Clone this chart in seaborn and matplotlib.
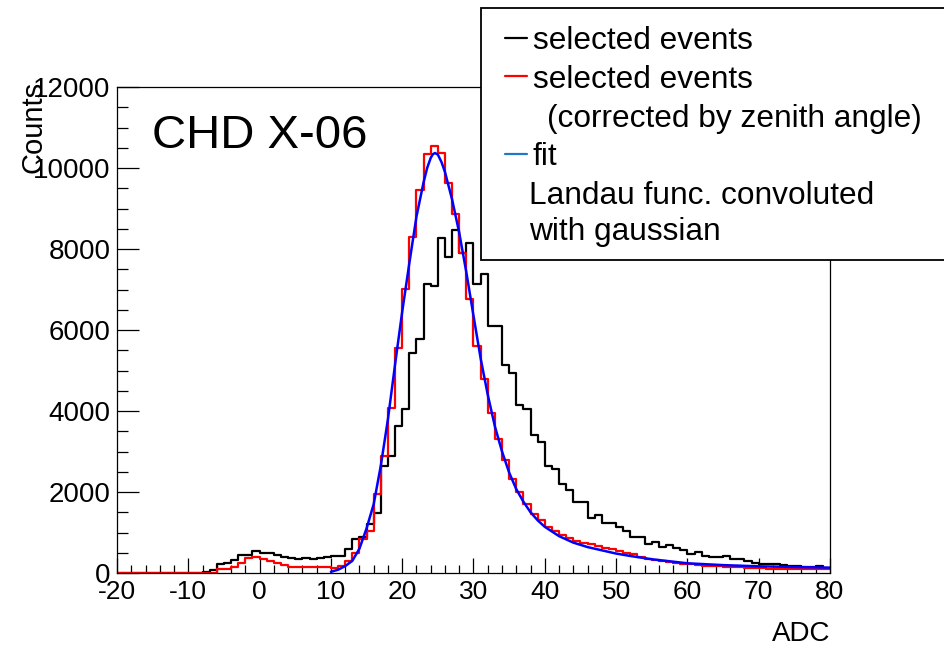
import numpy as np
import pandas as pd
import matplotlib
matplotlib.use("Agg")
import matplotlib.pyplot as plt
from matplotlib.patches import Rectangle
from matplotlib.lines import Line2D
from matplotlib.ticker import MultipleLocator
import seaborn as sns

# bin edges: 1 ADC wide, -20 .. 80
bin_edges = list(range(-20, 81))
bin_centers = [e + 0.5 for e in bin_edges[:-1]]

# selected events (black), one value per bin from -20 to 79
counts_sel = [
    0, 0, 0, 0, 0, 0, 0, 0, 0, 0, 0, 0,            # -20 .. -9
    33, 80, 214, 255, 313, 436, 436, 543,          # -8 .. -1
    502, 502, 445, 403, 362, 340, 370, 345, 380, 400,  # 0 .. 9
    420, 420, 585, 831, 881, 1202, 1490, 2643, 2890, 3631,  # 10 .. 19
    4043, 5442, 5772, 7146, 7089, 8267, 7805, 8464, 7912, 8159,  # 20 .. 29
    7146, 7377, 6101, 6101, 5138, 4932, 4141, 4043, 3409, 3244,  # 30 .. 39
    2643, 2561, 2207, 2042, 1762, 1762, 1367, 1433, 1243, 1243,  # 40 .. 49
    1136, 1037, 889, 889, 708, 766, 642, 691, 609, 560,  # 50 .. 59
    478, 527, 420, 395, 395, 420, 337, 337, 296, 255,  # 60 .. 69
    230, 230, 214, 198, 173, 173, 148, 148, 173, 132,  # 70 .. 79
]

# selected events corrected by zenith angle (red)
counts_corr = [
    0, 0, 0, 0, 0, 0, 0, 0, 0, 0, 0, 0, 0,         # -20 .. -8
    10, 90, 100, 156, 239, 379, 395,               # -7 .. -1
    337, 296, 239, 198, 156, 150, 145, 145, 145, 150,  # 0 .. 9
    132, 165, 296, 502, 831, 1037, 1943, 2890, 4084, 5566,  # 10 .. 19
    7006, 8299, 9452, 10341, 10547, 10382, 9641, 8859, 7912, 6760,  # 20 .. 29
    5607, 4784, 3960, 3301, 2790, 2330, 2000, 1712, 1449, 1301,  # 30 .. 39
    1136, 1037, 939, 856, 790, 749, 708, 667, 626, 585,  # 40 .. 49
    543, 500, 460, 400, 337, 313, 296, 280, 255, 230,  # 50 .. 59
    214, 198, 181, 173, 165, 156, 148, 140, 132, 120,  # 60 .. 69
    115, 110, 105, 100, 100, 95, 95, 91, 91, 91,   # 70 .. 79
]

# fit curve (Landau x gaussian)
fit_x = [10, 11, 12, 13, 14, 15, 16, 17, 18, 19, 20, 21, 22, 23, 23.5, 24, 24.3,
         24.6, 25, 25.5, 26, 27, 28, 29, 30, 31, 32, 33, 34, 35, 36, 37, 38, 39,
         40, 42, 44, 46, 48, 50, 52, 55, 60, 65, 70, 75, 80]
fit_y = [30, 80, 170, 300, 600, 1100, 1700, 2650, 3800, 5150, 6450, 7650, 8800,
         9650, 10000, 10250, 10340, 10370, 10330, 10150, 9900, 9220, 8400, 7420,
         6350, 5300, 4400, 3620, 3000, 2480, 2070, 1760, 1500, 1300, 1140, 910,
         750, 640, 560, 480, 420, 340, 240, 195, 165, 148, 132]

legend_labels = ["selected events", "selected events",
                 "(corrected by zenith angle)", "fit",
                 "Landau func. convoluted", "with gaussian"]

df_hist = pd.DataFrame({"adc": bin_centers, "sel": counts_sel, "corr": counts_corr})
df_fit = pd.DataFrame({"adc": fit_x, "fit": fit_y})

sns.set_theme(style="white")
plt.rcParams["font.family"] = ["Liberation Sans", "DejaVu Sans"]
plt.rcParams["axes.unicode_minus"] = False
plt.rcParams["text.color"] = "black"
plt.rcParams["axes.labelcolor"] = "black"
plt.rcParams["xtick.color"] = "black"
plt.rcParams["ytick.color"] = "black"

W, H = 945, 645
fig = plt.figure(figsize=(W / 100, H / 100), dpi=100)
ax = fig.add_axes([117 / W, 1 - 573 / H, 713 / W, 486 / H])

sns.histplot(data=df_hist, x="adc", weights="sel", bins=bin_edges, element="step",
             fill=False, color="black", linewidth=1.6, ax=ax)
sns.histplot(data=df_hist, x="adc", weights="corr", bins=bin_edges, element="step",
             fill=False, color="#ff0000", linewidth=1.6, ax=ax)
sns.lineplot(data=df_fit, x="adc", y="fit", color="#0000ff", linewidth=1.8, ax=ax)

ax.set_xlim(-20, 80)
ax.set_ylim(0, 12000)
ax.xaxis.set_major_locator(MultipleLocator(10))
ax.xaxis.set_minor_locator(MultipleLocator(2))
ax.yaxis.set_major_locator(MultipleLocator(2000))
ax.yaxis.set_minor_locator(MultipleLocator(500))
ax.tick_params(axis="x", which="major", direction="in", length=11, width=0.9,
               labelsize=19, pad=5)
ax.tick_params(axis="x", which="minor", direction="in", length=5.5, width=0.9)
ax.tick_params(axis="y", which="major", direction="in", length=16, width=0.9,
               labelsize=20, pad=4.5)
ax.tick_params(axis="y", which="minor", direction="in", length=8, width=0.9)
ax.tick_params(bottom=True, left=True, top=False, right=False, which="both")
for s in ax.spines.values():
    s.set_color("black")
    s.set_linewidth(0.9)

ax.set_xlabel("ADC", loc="right", fontsize=20, labelpad=12)
ax.set_ylabel("Counts", loc="top", fontsize=21)
ax.yaxis.set_label_coords(-0.097, 1.012)

ax.text(152 / W, 1 - 148 / H, "CHD X-06", fontsize=34, va="baseline",
        transform=fig.transFigure)

# legend box, drawn ROOT style
fig.add_artist(Rectangle((481 / W, 1 - 260 / H), 0.6, (260 - 8) / H,
                         transform=fig.transFigure, facecolor="white",
                         edgecolor="black", linewidth=1.3, zorder=5))
handle_colors = {0: "black", 1: "#ff0000", 3: "#1f78c8"}
handle_y = {0: 37.7, 1: 76, 3: 154}
for i, c in handle_colors.items():
    yy = 1 - handle_y[i] / H
    fig.add_artist(Line2D([505 / W, 527 / W], [yy, yy], color=c, linewidth=1.6,
                          transform=fig.transFigure, zorder=6))
text_x = [533, 533, 547, 533, 529, 529]
text_base = [49, 88, 127, 165, 204, 240]
for lab, tx, tb in zip(legend_labels, text_x, text_base):
    fig.text(tx / W, 1 - tb / H, lab, fontsize=22.8, va="baseline", zorder=6)

fig.savefig("out.png", dpi=100)
